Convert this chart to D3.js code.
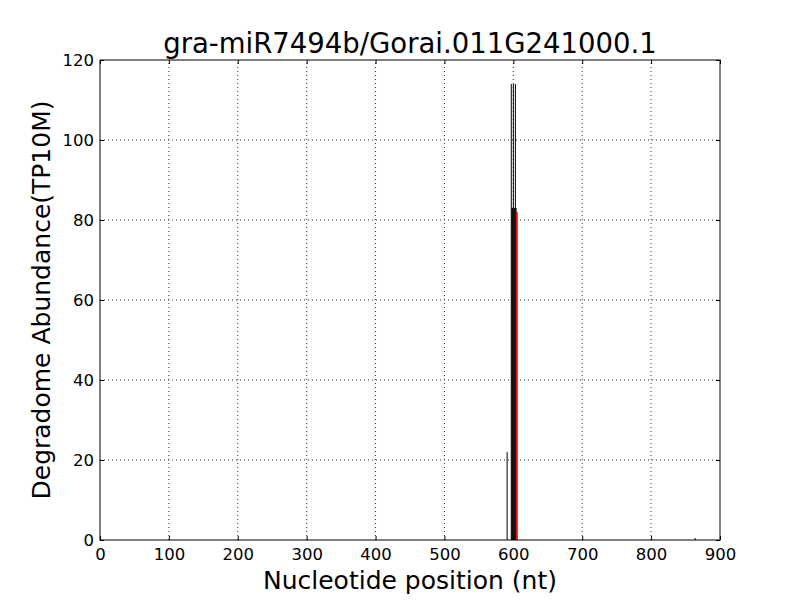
<!DOCTYPE html>
<html>
<head>
<meta charset="utf-8">
<script src="https://cdn.jsdelivr.net/npm/d3@7"></script>
<style>
  body { margin: 0; background: #fff; }
  svg { display: block; font-family: "DejaVu Sans", sans-serif; }
</style>
</head>
<body>
<div class="chart"></div>
<script>
// 数据
const positions = [591, 597, 598, 599, 600, 601, 602, 603, 604, 864]
const abundance = [22, 114, 83, 83, 114, 83, 83, 114, 83, 0.5]
const sitePos = [605]
const siteVal = [82]
const xTicks = [0, 100, 200, 300, 400, 500, 600, 700, 800, 900]
const yTicks = [0, 20, 40, 60, 80, 100, 120]

const width = 800
const height = 600
const margin = { left: 100, right: 80, top: 60, bottom: 60 }

const svg = d3.select(".chart").append("svg")
  .attr("width", width)
  .attr("height", height)

const x = d3.scaleLinear().domain([0, 900]).range([margin.left, width - margin.right])
const y = d3.scaleLinear().domain([0, 120]).range([height - margin.bottom, margin.top])

// 网格
svg.append("g").selectAll("line")
  .data(xTicks.slice(1, -1))
  .enter().append("line")
  .attr("x1", d => x(d)).attr("x2", d => x(d))
  .attr("y1", y(0)).attr("y2", y(120))
  .attr("stroke", "#000").attr("stroke-width", 0.8)
  .attr("stroke-dasharray", "1,3")

svg.append("g").selectAll("line")
  .data(yTicks.slice(1, -1))
  .enter().append("line")
  .attr("x1", x(0)).attr("x2", x(900))
  .attr("y1", d => y(d)).attr("y2", d => y(d))
  .attr("stroke", "#000").attr("stroke-width", 0.8)
  .attr("stroke-dasharray", "1,3")

// 黑色竖线
svg.append("g").selectAll("line")
  .data(positions)
  .enter().append("line")
  .attr("x1", d => x(d)).attr("x2", d => x(d))
  .attr("y1", y(0))
  .attr("y2", (d, i) => y(abundance[i]))
  .attr("stroke", "#000").attr("stroke-width", 1)

// 红色切割位点
svg.append("g").selectAll("line")
  .data(sitePos)
  .enter().append("line")
  .attr("x1", d => x(d)).attr("x2", d => x(d))
  .attr("y1", y(0))
  .attr("y2", (d, i) => y(siteVal[i]))
  .attr("stroke", "#ff0000").attr("stroke-width", 2)

// 坐标轴
const xAxis = d3.axisBottom(x).tickValues(xTicks).tickSizeInner(-4).tickSizeOuter(0).tickPadding(8)
const yAxis = d3.axisLeft(y).tickValues(yTicks).tickSizeInner(-4).tickSizeOuter(0).tickPadding(6)

svg.append("g").attr("transform", `translate(0,${y(0)})`).call(xAxis)
svg.append("g").attr("transform", `translate(${x(0)},0)`).call(yAxis)
svg.append("g").attr("transform", `translate(0,${y(120)})`)
  .call(d3.axisTop(x).tickValues(xTicks).tickSizeInner(-4).tickSizeOuter(0).tickFormat(""))
svg.append("g").attr("transform", `translate(${x(900)},0)`)
  .call(d3.axisRight(y).tickValues(yTicks).tickSizeInner(-4).tickSizeOuter(0).tickFormat(""))

svg.selectAll(".domain").remove()
svg.selectAll(".tick text")
  .attr("font-size", "16.5px")
  .attr("font-family", "DejaVu Sans, sans-serif")
  .attr("fill", "#000")

svg.append("rect")
  .attr("x", x(0)).attr("y", y(120))
  .attr("width", x(900) - x(0)).attr("height", y(0) - y(120))
  .attr("fill", "none").attr("stroke", "#000").attr("stroke-width", 1)

// 标题
svg.append("text")
  .attr("x", (x(0) + x(900)) / 2).attr("y", 53)
  .attr("text-anchor", "middle")
  .attr("font-size", "27.5px")
  .text("gra-miR7494b/Gorai.011G241000.1")

svg.append("text")
  .attr("x", (x(0) + x(900)) / 2).attr("y", 589)
  .attr("text-anchor", "middle")
  .attr("font-size", "25px")
  .text("Nucleotide position (nt)")

svg.append("text")
  .attr("transform", `translate(50,${(y(0) + y(120)) / 2}) rotate(-90)`)
  .attr("text-anchor", "middle")
  .attr("font-size", "25px")
  .text("Degradome Abundance(TP10M)")
</script>
</body>
</html>
